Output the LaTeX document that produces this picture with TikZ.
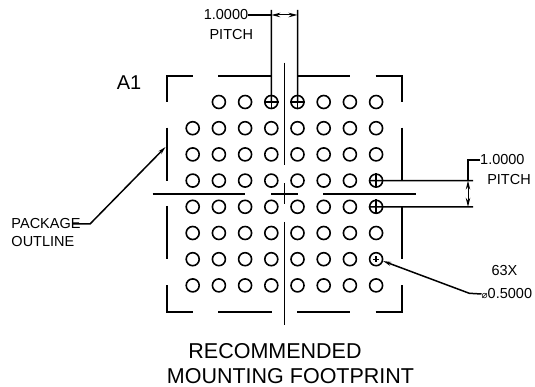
\documentclass[tikz,border=0pt]{standalone}
\usepackage{fontspec}
\setmainfont{Liberation Sans}
\newfontfamily\symfont{DejaVu Sans}
\usetikzlibrary{arrows.meta}
\tikzset{
	pad/.style={draw, circle, line width=1.6pt, minimum size=13pt, inner sep=0pt},
	lbl/.style={inner sep=0pt, font=\fontsize{14.5}{14.5}\selectfont},
	big/.style={inner sep=0pt, font=\fontsize{21.5}{21.5}\selectfont},
	geo/.style={line width=1.7pt},
	lead/.style={line width=1.5pt},
	tip/.style={{Stealth[length=9pt,width=4.5pt]}-{Stealth[length=9pt,width=4.5pt]}, line width=1pt},
}
\begin{document}
\begin{tikzpicture}[x=1pt, y=-1pt]
		\useasboundingbox (0,0) rectangle (535,387);

		\foreach \cl in {1,...,8} {
			\foreach \rw in {1,...,8} {
				\ifnum\numexpr\cl*10+\rw\relax=11 \else
					\node[pad] (p\cl\rw) at ({192.7+26.2*(\cl-1)},{102+26.2*(\rw-1)}) {};
				\fi
			}
		}

		\draw[geo] (166.7,102) -- (166.7,76) -- (193.3,76);
		\draw[geo] (218.3,76) -- (271.5,76);
		\draw[geo] (297,76) -- (350,76);
		\draw[geo] (375.7,76) -- (402.3,76) -- (402.3,102);
		\draw[geo] (166.7,127.7) -- (166.7,181);
		\draw[geo] (166.7,206) -- (166.7,259.3);
		\draw[geo] (166.7,285) -- (166.7,311.7) -- (192.7,311.7);
		\draw[geo] (218.3,311.7) -- (271.7,311.7);
		\draw[geo] (297.3,311.7) -- (350,311.7);
		\draw[geo] (375.7,311.7) -- (402.3,311.7) -- (402.3,285);
		\draw[geo] (402.3,127.7) -- (402.3,181);
		\draw[geo] (402.3,206.5) -- (402.3,259.3);

		\draw[geo] (284.4,62.7) -- (284.4,165);
		\draw[geo] (284.4,183.5) -- (284.4,204);
		\draw[geo] (284.4,222) -- (284.4,325);
		\draw[geo] (152.7,193.7) -- (245,193.7);
		\draw[geo] (271,193.7) -- (298,193.7);
		\draw[geo] (323,193.7) -- (416,193.7);

		\node[lbl] (pitchA) at (226,15) {1.0000};
		\node[lbl] (pitchAb) at (231.3,35) {PITCH};
		\node[big, font=\fontsize{20}{20}\selectfont] (aone) at (129,83) {A1};
		\node[lbl, anchor=west] (pitchB) at (480,160) {1.0000};
		\node[lbl] (pitchBb) at (509,180) {PITCH};
		\node[lbl] (count) at (504.5,271) {63X};
		\node[lbl, anchor=west] (dia) at (481.5,294) {{\symfont\fontsize{10}{10}\selectfont ⌀}0.5000};
		\node[lbl, anchor=west] (pkg) at (11.3,224) {PACKAGE};
		\node[lbl, anchor=west] (outl) at (11.3,241.7) {OUTLINE};
		\node[big] (reca) at (275,351) {RECOMMENDED};
		\node[big] (recb) at (290.5,376.5) {MOUNTING FOOTPRINT};

		\coordinate (topA) at (271.3,10);
		\coordinate (topB) at (297.5,10);
		\coordinate (rgtA) at (473,180.6);
		\coordinate (rgtB) at (473,206.8);

		\draw[lead] (p41.center) -- (topA);
		\draw[lead] (p51.center) -- (topB);
		\draw[lead] (pitchA.east) -- (271.3,15);
		\draw[tip] (271.3,15) -- (297.5,15);

		\draw[lead] (p84.west) -- (rgtA);
		\draw[lead] (p85.west) -- (rgtB);
		\draw[lead] (pitchB.west) -- (468,160) -- (468,180.6);
		\draw[tip] (468,180.6) -- (468,206.8);

		\draw[lead] (p41.north) -- (p41.south);
		\draw[lead] (p41.west) -- (p41.east);
		\draw[lead] (p51.north) -- (p51.south);
		\draw[lead] (p51.west) -- (p51.east);
		\draw[lead] (p84.north) -- (p84.south);
		\draw[lead] (p85.north) -- (p85.south);

		\draw[line width=1.3pt] (373,259.2) -- (379,259.2);
		\draw[line width=1.3pt] (376,256.2) -- (376,262.2);

		\draw[lead, {Stealth[length=8pt,width=4pt]}-] (p87.-15) -- (469.3,293.3) -- (dia.west);
		\draw[lead, {Stealth[length=8pt,width=4pt]}-] (165.5,147) -- (90,224) -- ([xshift=-8pt]pkg.east);
	\end{tikzpicture}
\end{document}
